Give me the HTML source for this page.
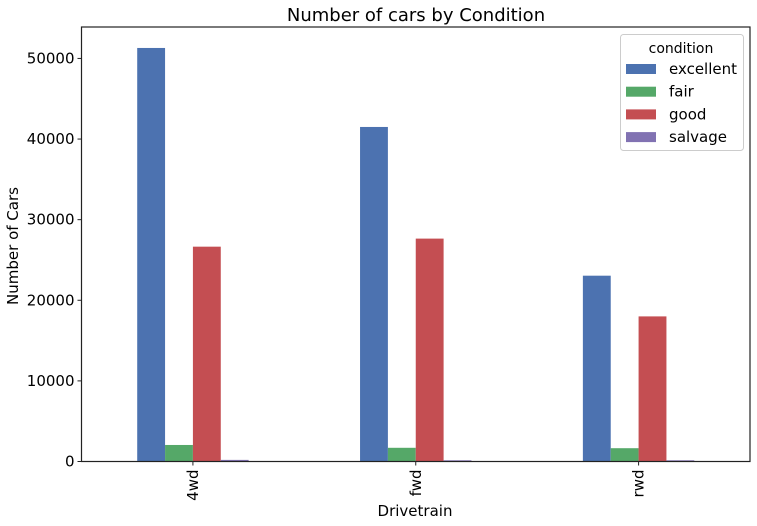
<!DOCTYPE html>
<html><head><meta charset="utf-8"><style>
body{margin:0;background:#fff;}
svg{display:block;font-family:"DejaVu Sans","Liberation Sans",sans-serif;}
</style></head><body>
<svg id="c" width="757" height="526">
<text x="416" y="21" font-size="18" text-anchor="middle" fill="#000">Number of cars by Condition</text>
<g id="bars"></g>
<g id="axes"></g>
<text x="415" y="516" font-size="15" text-anchor="middle">Drivetrain</text>
<text transform="translate(18,246) rotate(-90)" font-size="15" text-anchor="middle">Number of Cars</text>
<g>
<rect x="620.5" y="34.5" width="123" height="116" rx="3" fill="#fff" stroke="#ccc"/>
<text x="681" y="53" font-size="14" text-anchor="middle">condition</text>
<g id="leg"></g>
</g>
</svg>
<script>
const categories=["4wd","fwd","rwd"];
const seriesNames=["excellent","fair","good","salvage"];
const excellent=[51300,41500,23050];
const fair=[2050,1700,1650];
const good=[26650,27650,18000];
const salvage=[200,150,150];
const yTicks=[0,10000,20000,30000,40000,50000];
const colors=["#4c72b0","#55a868","#c44e52","#8172b2"];
const series=[excellent,fair,good,salvage];
const NS="http://www.w3.org/2000/svg";
const L=81.5,R=750,T=27,B=461.5,yMax=53900;
const y=v=>B-(v/yMax)*(B-T);
const step=(R-L)/categories.length;
const xc=i=>L+step*(i+0.5);
const bw=step/8;
function mk(tag,attrs,parent){const e=document.createElementNS(NS,tag);for(const k in attrs)e.setAttribute(k,attrs[k]);parent.appendChild(e);return e;}
const bars=document.getElementById("bars"),axes=document.getElementById("axes"),leg=document.getElementById("leg");
series.forEach((s,si)=>{s.forEach((v,ci)=>{
 const r=mk("rect",{x:xc(ci)-2*bw+si*bw,y:y(v),width:bw,height:B-y(v),fill:colors[si]},bars);
 
 
});});
const frame=mk("rect",{x:L,y:T,width:R-L,height:B-T,fill:"none",stroke:"#222","stroke-width":1.2},axes);


yTicks.forEach(t=>{
 mk("line",{x1:L-4,x2:L,y1:y(t),y2:y(t),stroke:"#222"},axes);
 const tx=mk("text",{x:L-7,y:y(t)+5,"font-size":15,"text-anchor":"end"},axes);
 tx.textContent=t;
 
 
});
categories.forEach((c,i)=>{
 mk("line",{x1:xc(i),x2:xc(i),y1:B,y2:B+4,stroke:"#222"},axes);
 const tx=mk("text",{transform:`translate(${xc(i)+5},${B+8}) rotate(-90)`,"font-size":15,"text-anchor":"end"},axes);
 tx.textContent=c;
 
 
});
seriesNames.forEach((n,i)=>{
 const yy=69+i*22.7;
 const p=mk("rect",{x:626,y:yy-5,width:30,height:10,fill:colors[i]},leg);
 
 
 const t=mk("text",{x:669,y:yy+5,"font-size":15},leg);
 t.textContent=n;
 
 
});
</script>
</body></html>
